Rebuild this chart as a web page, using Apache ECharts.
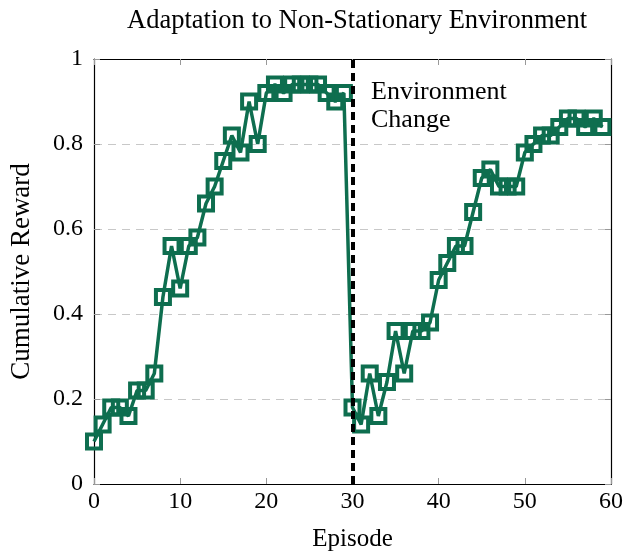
<!DOCTYPE html>
<html>
<head>
<meta charset="utf-8">
<script src="https://cdn.jsdelivr.net/npm/echarts@6/dist/echarts.min.js"></script>
<style>
  html, body { margin: 0; padding: 0; background: #fff; }
  #chart { width: 635px; height: 557px; }
</style>
</head>
<body>
<div id="chart"></div>
<script>
// episodes 0..59
var episodes = [];
for (var i = 0; i < 60; i++) episodes.push(i);

var reward = [
    0.10, 0.14, 0.18, 0.18, 0.16, 0.22, 0.22, 0.26, 0.44, 0.56,
    0.46, 0.56, 0.58, 0.66, 0.70, 0.76, 0.82, 0.78, 0.90, 0.80,
    0.92, 0.94, 0.92, 0.94, 0.94, 0.94, 0.94, 0.92, 0.90, 0.92,
    0.18, 0.14, 0.26, 0.16, 0.24, 0.36, 0.26, 0.36, 0.36, 0.38,
    0.48, 0.52, 0.56, 0.56, 0.64, 0.72, 0.74, 0.70, 0.70, 0.70,
    0.78, 0.80, 0.82, 0.82, 0.84, 0.86, 0.86, 0.84, 0.86, 0.84
];

var changeEpisode = 30;
var serif = "'Liberation Serif', 'DejaVu Serif', serif";
var green = '#0e6e4f';

var points = [];
for (var i = 0; i < episodes.length; i++) points.push([episodes[i], reward[i]]);

var myChart = echarts.init(document.getElementById('chart'));

var option = {
    backgroundColor: '#fff',
    animation: false,
    title: {
        text: 'Adaptation to Non-Stationary Environment',
        left: 352,
        textAlign: 'center',
        top: 3,
        textStyle: {fontFamily: serif, fontSize: 26.5, fontWeight: 'normal', color: '#000'}
    },
    grid: {left: 93, right: 24, top: 59, bottom: 69},
    xAxis: [
        {
            type: 'value',
            min: 0, max: 60, interval: 10,
            name: 'Episode',
            nameLocation: 'middle',
            nameGap: 43,
            nameTextStyle: {fontFamily: serif, fontSize: 25, color: '#000'},
            axisLine: {show: true, onZero: false, lineStyle: {color: '#000', width: 1.2}},
            axisTick: {show: true, inside: true, length: 6, lineStyle: {color: '#999'}},
            axisLabel: {fontFamily: serif, fontSize: 24, color: '#000', margin: 6},
            splitLine: {show: false}
        },
        {
            type: 'value',
            position: 'top',
            min: 0, max: 60, interval: 10,
            axisLine: {show: true, onZero: false, lineStyle: {color: '#000', width: 1.2}},
            axisTick: {show: true, inside: true, length: 6, lineStyle: {color: '#999'}},
            axisLabel: {show: false},
            splitLine: {show: false}
        }
    ],
    yAxis: [
        {
            type: 'value',
            min: 0, max: 1, interval: 0.2,
            name: 'Cumulative Reward',
            nameLocation: 'middle',
            nameGap: 59,
            nameTextStyle: {fontFamily: serif, fontSize: 27, color: '#000'},
            axisLine: {show: true, onZero: false, lineStyle: {color: '#000', width: 1.2}},
            axisTick: {show: true, inside: true, length: 6, lineStyle: {color: '#999'}},
            axisLabel: {
                fontFamily: serif, fontSize: 24, color: '#000', margin: 11,
                formatter: function (v) { return v === 0 || v === 1 ? String(v) : v.toFixed(1); }
            },
            splitLine: {show: true, lineStyle: {color: '#c8c8c8', type: [8, 6], width: 1}}
        },
        {
            type: 'value',
            position: 'right',
            min: 0, max: 1, interval: 0.2,
            axisLine: {show: true, onZero: false, lineStyle: {color: '#000', width: 1.2}},
            axisTick: {show: true, inside: true, length: 6, lineStyle: {color: '#999'}},
            axisLabel: {show: false},
            splitLine: {show: false}
        }
    ],
    graphic: [
        {
            type: 'text',
            left: 371,
            top: 78,
            z: 100,
            style: {
                text: 'Environment\nChange',
                fontFamily: serif,
                fontSize: 26,
                lineHeight: 28,
                fill: '#000'
            }
        }
    ],
    series: [
        {
            name: 'Reward',
            type: 'line',
            data: points,
            lineStyle: {color: green, width: 3.5},
            symbol: 'rect',
            symbolSize: 14,
            itemStyle: {color: 'rgba(255,255,255,0)', borderColor: green, borderWidth: 4},
            z: 3,
            markLine: {
                silent: true,
                symbol: 'none',
                label: {show: false},
                lineStyle: {color: '#000', width: 4, type: [8, 5]},
                data: [{xAxis: changeEpisode}],
                z: 5
            }
        }
    ]
};

myChart.setOption(option);
</script>
</body>
</html>
